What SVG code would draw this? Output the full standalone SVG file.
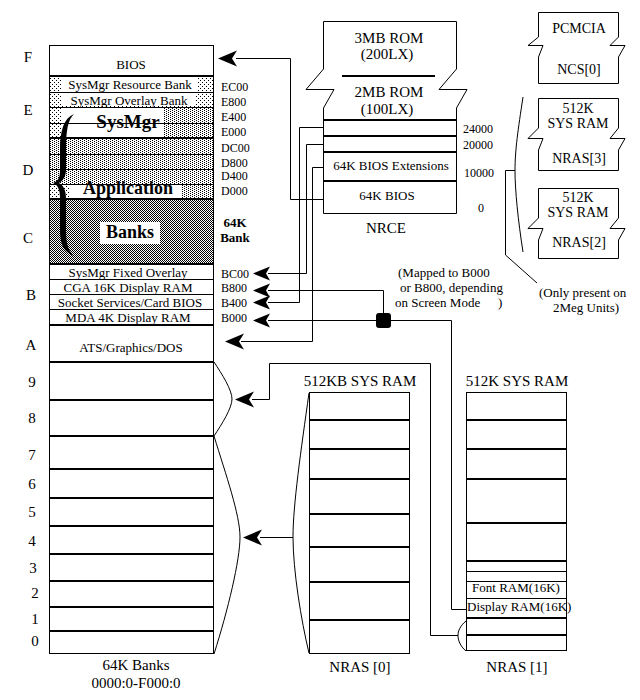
<svg xmlns="http://www.w3.org/2000/svg" width="640" height="700" viewBox="0 0 640 700">
<style>
text{font-family:"Liberation Serif","Times New Roman",serif;fill:#000}
.s12{font-size:12px}
.s13{font-size:13px}
.s14{font-size:14px}
.s15{font-size:15px}
.c{text-anchor:middle}
.b{font-weight:bold}
.ln{stroke:#000;stroke-width:1;fill:none}
.th{stroke:#000;stroke-width:2;fill:none}
.w{fill:#fff}
.box{fill:#fff;stroke:#000;stroke-width:1}
</style>
<defs>
<pattern id="lt" width="4" height="4" patternUnits="userSpaceOnUse"><rect x="0" y="0" width="1" height="1"/><rect x="2" y="2" width="1" height="1"/></pattern>
<pattern id="md" width="4" height="2" patternUnits="userSpaceOnUse"><rect x="0" y="0" width="1" height="1"/><rect x="2" y="1" width="1" height="1"/></pattern>
<pattern id="dk" width="2" height="2" patternUnits="userSpaceOnUse"><rect x="0" y="0" width="1" height="1"/><rect x="1" y="1" width="1" height="1"/></pattern>
<path id="ah" d="M0,0 L19,-8 L14,0 L19,8 Z"/>
<path id="as" d="M0,0 L17,-7 L13,0 L17,7 Z"/>
</defs>
<rect width="640" height="700" fill="#fff"/>

<g id="memory-map">
<rect x="49.5" y="45.5" width="164" height="608" class="box"/>
<rect x="50" y="77" width="163" height="30" fill="url(#lt)"/>
<rect x="62" y="78" width="135" height="13" class="w"/>
<rect x="62" y="93" width="134" height="13" class="w"/>
<rect x="50" y="108" width="12" height="30" fill="url(#lt)"/>
<rect x="163" y="108" width="50" height="30" fill="url(#md)"/>
<rect x="50" y="139" width="163" height="45" fill="url(#md)"/>
<rect x="50" y="185" width="20" height="14" fill="url(#lt)"/>
<rect x="182" y="185" width="31" height="14" fill="url(#md)"/>
<rect x="50" y="200" width="163" height="64" fill="url(#dk)"/>
<rect x="100" y="222" width="60" height="22" class="w"/>
<path class="ln" d="M49.5,92.5H213.5M49.5,107.5H213.5M49.5,123.5H213.5M49.5,154.5H213.5M49.5,169.5H213.5M49.5,184.5H213.5M49.5,279.5H213.5M49.5,294.5H213.5M49.5,309.5H213.5"/>
<path class="th" d="M49.5,76H213.5M49.5,138H213.5M49.5,199H213.5M49.5,264H213.5M49.5,325H213.5M49.5,362H213.5M49.5,400H213.5M49.5,436H213.5M49.5,469H213.5M49.5,498H213.5M49.5,526H213.5M49.5,554H213.5M49.5,581H213.5M49.5,607H213.5M49.5,631H213.5"/>
<path d="M74,114 C64,118 60,130 60,150 L60,170 C60,178 58,181 53,183 C58,185 60,190 60,198 L60,230 C60,245 64,252 74,256 C68,250 66,244 66,230 L66,198 C66,190 63,185 59,183 C63,181 66,176 66,170 L66,150 C66,130 68,120 74,114 Z"/>
<text class="s13 c" x="131" y="69">BIOS</text>
<text class="s13 c" x="130" y="89">SysMgr Resource Bank</text>
<text class="s13 c" x="129" y="105">SysMgr Overlay Bank</text>
<text class="c b" style="font-size:19px" x="128" y="128">SysMgr</text>
<text class="c b" style="font-size:18px" x="128" y="194">Application</text>
<text class="c b" style="font-size:18px" x="130" y="238">Banks</text>
<text class="s13 c" x="128" y="277">SysMgr Fixed Overlay</text>
<text class="s13 c" x="128" y="292">CGA 16K Display RAM</text>
<text class="s13 c" x="130" y="307">Socket Services/Card BIOS</text>
<text class="s13 c" x="128" y="322">MDA 4K Display RAM</text>
<text class="s13 c" x="131" y="352">ATS/Graphics/DOS</text>
<text class="s15 c" x="136" y="670">64K Banks</text>
<text class="s15 c" x="136" y="688">0000:0-F000:0</text>
<g class="s15 c">
<text x="28" y="62">F</text>
<text x="28" y="115">E</text>
<text x="28" y="175">D</text>
<text x="28" y="243">C</text>
<text x="31" y="300">B</text>
<text x="31" y="350">A</text>
<text x="32" y="387">9</text>
<text x="32" y="423">8</text>
<text x="32" y="460">7</text>
<text x="32" y="489">6</text>
<text x="32" y="517">5</text>
<text x="32" y="546">4</text>
<text x="33" y="573">3</text>
<text x="35" y="598">2</text>
<text x="35" y="624">1</text>
<text x="35" y="646">0</text>
</g>
<g class="s12">
<text x="221" y="91">EC00</text>
<text x="221" y="106">E800</text>
<text x="221" y="121">E400</text>
<text x="221" y="136">E000</text>
<text x="221" y="152">DC00</text>
<text x="221" y="167">D800</text>
<text x="221" y="180">D400</text>
<text x="221" y="195">D000</text>
<text x="221" y="278">BC00</text>
<text x="221" y="292">B800</text>
<text x="221" y="307">B400</text>
<text x="221" y="322">B000</text>
</g>
<text class="s13 c b" x="235" y="227">64K</text>
<text class="s13 c b" x="235" y="242">Bank</text>
</g>

<g id="rom-nrce">
<path class="box" d="M323.5,21.5 H456.5 V69 L439,89.5 H467 L456.5,108 V213.5 H323.5 V108 L334,89.5 H306 L323.5,69 Z"/>
<path class="th" d="M342,76H435M323.5,120H456.5M323.5,136H456.5M323.5,152H456.5M323.5,181H456.5"/>
<text class="s15 c" x="389" y="43">3MB ROM</text>
<text class="s15 c" x="387" y="59">(200LX)</text>
<text class="s15 c" x="389" y="97">2MB ROM</text>
<text class="s15 c" x="387" y="114">(100LX)</text>
<text class="s13 c" x="391" y="170">64K BIOS Extensions</text>
<text class="s13 c" x="387" y="200">64K BIOS</text>
<text class="s12" x="463" y="133">24000</text>
<text class="s12" x="463" y="149">20000</text>
<text class="s12" x="464" y="177">10000</text>
<text class="s12" x="478" y="212">0</text>
<text class="s15 c" x="386" y="233">NRCE</text>
</g>

<g id="pcmcia">
<path class="box" d="M538.5,12.5 H618.5 V37 L610,45.5 H625 L618.5,57 V83.5 H538.5 V57 L543,45.5 H528 L538.5,37 Z"/>
<text class="s14 c" x="579" y="33">PCMCIA</text>
<text class="s14 c" x="579" y="74">NCS[0]</text>
</g>

<g id="ram-nras3">
<path class="box" d="M538.5,98.5 H618.5 V128 L610,138.5 H625 L618.5,150 V170.5 H538.5 V150 L543,138.5 H528 L538.5,128 Z"/>
<text class="s14 c" x="578" y="113">512K</text>
<text class="s14 c" x="578" y="128">SYS RAM</text>
<text class="s14 c" x="579" y="163">NRAS[3]</text>
</g>

<g id="ram-nras2">
<path class="box" d="M538.5,188.5 H618.5 V218 L610,228.5 H625 L618.5,240 V258.5 H538.5 V240 L543,228.5 H528 L538.5,218 Z"/>
<text class="s14 c" x="578" y="202">512K</text>
<text class="s14 c" x="578" y="217">SYS RAM</text>
<text class="s14 c" x="579" y="247">NRAS[2]</text>
</g>

<g id="ram-nras0">
<text class="s15 c" x="360" y="386">512KB SYS RAM</text>
<rect x="309.5" y="392.5" width="100" height="261" class="box"/>
<path class="th" d="M309.5,420H409.5M309.5,449H409.5M309.5,479H409.5M309.5,514H409.5M309.5,547H409.5M309.5,582H409.5M309.5,620H409.5"/>
<text class="s15 c" x="360" y="672">NRAS [0]</text>
</g>

<g id="ram-nras1">
<text class="s15 c" x="517" y="386">512K SYS RAM</text>
<rect x="466.5" y="392.5" width="100" height="258" class="box"/>
<path class="th" d="M466.5,420H566.5M466.5,449H566.5M466.5,479H566.5M466.5,523H566.5M466.5,561H566.5M466.5,618H566.5M466.5,635H566.5"/>
<path class="ln" d="M466.5,571.5H566.5M466.5,581.5H566.5M466.5,598.5H566.5"/>
<text class="s13 c" x="516" y="592">Font RAM(16K)</text>
<text class="s13" x="467" y="611">Display RAM(16K)</text>
<text class="s15 c" x="517" y="672">NRAS [1]</text>
</g>

<g id="connectors">
<polyline class="ln" points="236,58.5 290.5,58.5 290.5,199.5 323,199.5"/>
<polyline class="ln" points="241,341.5 312.5,341.5 312.5,167.5 323,167.5"/>
<polyline class="ln" points="268,273.5 306.5,273.5 306.5,144.5 323,144.5"/>
<polyline class="ln" points="268,302.5 299.5,302.5 299.5,127.5 323,127.5"/>
<polyline class="ln" points="268,290.5 383.5,290.5 383.5,320"/>
<polyline class="ln" points="268,320.5 451.5,320.5 451.5,609.5 466,609.5"/>
<polyline class="ln" points="252,399.5 269.5,399.5 269.5,363.5 430.5,363.5 430.5,635.5 458,635.5"/>
<polyline class="ln" points="260,537.5 293,537.5"/>
<polyline class="ln" points="515,170.5 505.5,170.5 505.5,255 537,283"/>
<path class="ln" d="M214,362 C222,374 232,390 232,399 C232,408 222,424 214,436"/>
<path class="ln" d="M214,436 C226,475 240,515 240,537 C240,560 228,610 214,654"/>
<path class="ln" d="M309,393 C301,450 293,505 293,537 C293,570 301,620 309,653"/>
<path class="ln" d="M466,621 C460,626 458,631 458,635.5 C458,640 460,646 466,651"/>
<path class="ln" d="M523,97 C518,130 515,150 515,170.5 C515,190 518,220 523,252"/>
<rect x="376" y="313" width="15" height="15" rx="3"/>
<use href="#ah" x="218" y="58.5"/>
<use href="#ah" x="225" y="341.5"/>
<use href="#ah" x="235" y="399.5"/>
<use href="#ah" x="243" y="537.5"/>
<use href="#as" x="253" y="273.5"/>
<use href="#as" x="253" y="290.5"/>
<use href="#as" x="253" y="302.5"/>
<use href="#as" x="253" y="320.5"/>
</g>

<g id="notes">
<text class="s13" x="398" y="277">(Mapped to B000</text>
<text class="s13" x="400" y="292">or B800, depending</text>
<text class="s13" x="395" y="307">on Screen Mode</text>
<text class="s13" x="498" y="307">)</text>
<text class="s13" x="539" y="297">(Only present on</text>
<text class="s13" x="553" y="312">2Meg Units)</text>
</g>
</svg>
